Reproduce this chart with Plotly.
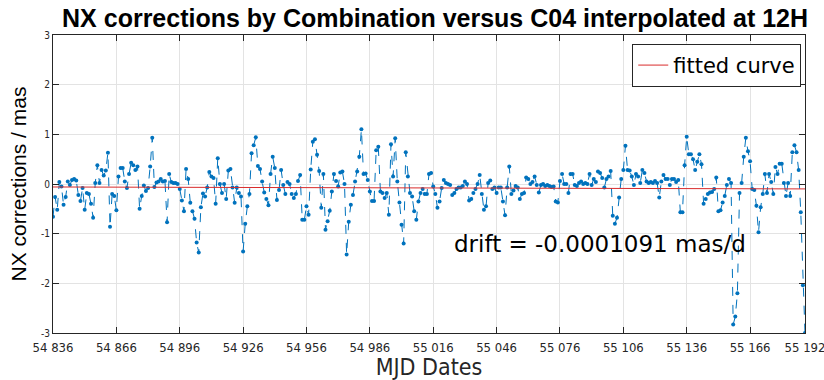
import plotly.graph_objects as go

# ---------------- data ----------------
mjd_start = 54836
nx_values = [
    -0.66, -0.26, -0.52, 0.04, -0.05, -0.42, -0.26, 0.05, -0.02, 0.08,
    0.10, 0.07, -0.22, -0.34, -0.08, -0.52, -0.18, -0.20, -0.40, -0.68,
    0.02, 0.38, 0.02, 0.28, 0.17, 0.27, 0.63, -0.86, -0.20, -0.24,
    -0.53,
    0.15, 0.32, 0.32, 0.05, -0.08, 0.20, 0.43, 0.38, 0.28, 0.35,
    -0.50, -0.24, -0.03, -0.14, -0.08, 0.35, 0.93, -0.06, 0.03, 0.05,
    0.10, 0.05, 0.06, -0.77, 0.20, 0.04, 0.02, 0.02, 0.00, -0.10,
    -0.33, -0.55, 0.30, 0.10, -0.38, -0.55, -0.70, -1.18, -1.38, -0.47,
    -0.19, -0.25, -0.07, 0.24, 0.15, 0.12, -0.40, 0.52, 0.00, -0.18,
    0.00, -0.30, 0.27, 0.30, -0.07, -0.38, -0.07, -0.18, -0.25, -1.36,
    -0.80, -0.45, -0.20, 0.62, 0.78, 0.94, 0.36, 0.30, 0.05, -0.17,
    -0.30, -0.43, 0.20, 0.55, 0.32, -0.32, -0.12, 0.28, -0.02, -0.20,
    0.04, 0.00, -0.20, -0.28, -0.20, 0.06, 0.18, -0.72, -0.72, -0.45,
    -0.62, 0.29, 0.85, 0.90, 0.59, 0.26, -0.48, 0.20, -0.92, -0.75,
    -0.54, -0.15, 0.20, 0.06, -0.05, 0.23, 0.25, 0.00, -1.42, -0.76,
    -0.42, -0.22, 0.05, 0.25, 0.55, 1.10, 0.20, 0.21, 0.08, -0.15,
    -0.34, -0.34, 0.68, 0.75, -0.15, -0.18, -0.28, -0.18, -0.62, 0.80,
    0.15, 0.92, 0.05, -0.37, -0.82, -1.20, 0.64, 0.15, -0.18, -0.25,
    -0.55, -0.72, -0.35,
    -0.18, -0.10, -0.20, -0.20, 0.20, 0.22, -0.05, -0.20, -0.48, -0.35,
    -0.08, 0.08, 0.02, 0.00, -0.02, -0.22, -0.18, -0.10, -0.07, -0.07,
    -0.04, 0.05, 0.00, -0.33, -0.30, -0.18, -0.10, 0.00, 0.18, -0.20,
    -0.52, -0.45, 0.02, 0.07, -0.10, -0.07, -0.18, -0.07, -0.07, -0.35,
    -0.63, -0.07, 0.35, -0.20, -0.13, -0.04, -0.07, -0.30, -0.20, -0.18,
    0.13, 0.10, 0.00, 0.04, 0.15, -0.02, -0.17, -0.02, 0.00, -0.04,
    -0.02, -0.04, -0.06, -0.05, -0.35, -0.37, 0.06, 0.20, 0.00, 0.00,
    -0.18, 0.20, 0.20, -0.02, -0.04, 0.02, 0.05, 0.00, 0.02, 0.00,
    0.20, -0.02, 0.10, 0.04, 0.25,
    0.22, 0.12, -0.07, 0.10, 0.15, 0.26, -0.64, -0.80, -0.68, -0.27,
    0.10, 0.28, 0.77, 0.28, 0.27, 0.15, -0.02, 0.20, 0.15, 0.02,
    0.28, 0.22, 0.05, 0.02, 0.04, 0.02, 0.06, 0.02, -0.27, 0.05,
    0.18, 0.10, 0.10, -0.02, 0.10, 0.10, 0.04, 0.08, -0.57, -0.57,
    0.38, 0.95, 0.60, 0.60, 0.50, 0.28, 0.45, 0.60, 0.40, -0.40,
    -0.30, -0.20, -0.17, -0.16, -0.10, 0.13, -0.55, -0.53, -0.37, -0.24,
    -0.02, 0.10, 0.02, -2.83, -2.67, -2.20, -0.18, 0.02, 0.55, 0.93,
    0.66, 0.46, -0.10, -0.12, -0.44, -0.97, -0.47, -0.20, 0.20, -0.18,
    0.20, 0.04, -0.20, 0.34, 0.20, 0.41, 0.41, 0.02, -0.24, 0.02,
    -0.24, 0.64, 0.78, 0.64, 0.28, -0.57, -2.04, -3.00,
]
mjd = [mjd_start + i for i in range(len(nx_values))]

fit_intercept = -0.06
drift = -0.0001091  # mas/d

x_tick_vals = [54836, 54866, 54896, 54926, 54956, 54986, 55016,
               55046, 55076, 55106, 55136, 55166, 55192]
x_tick_text = ["54 836", "54 866", "54 896", "54 926", "54 956", "54 986",
               "55 016", "55 046", "55 076", "55 106", "55 136", "55 166",
               "55 192"]
y_tick_vals = [-3, -2, -1, 0, 1, 2, 3]
y_tick_text = ["-3", "-2", "-1", "0", "1", "2", "3"]

fit_x = [mjd[0], mjd[-1]]
fit_y = [fit_intercept + drift * (v - mjd[0]) for v in fit_x]

# ---------------- figure ----------------
TXT = "#262626"
fig = go.Figure()
fig.add_trace(go.Scatter(
    x=mjd, y=nx_values, mode="lines+markers",
    line=dict(color="#0072BD", width=1, dash="dash"),
    marker=dict(color="#0072BD", size=4),
    showlegend=False, name="NX",
))
fig.add_trace(go.Scatter(
    x=fit_x, y=fit_y, mode="lines",
    line=dict(color="#D92B2B", width=1),
    name="fitted curve", showlegend=True,
))

fig.update_layout(
    width=824, height=380,
    margin=dict(l=53, r=19, t=35, b=47, autoexpand=False),
    paper_bgcolor="white", plot_bgcolor="white",
    title=dict(text="<b>NX corrections by Combination versus C04 interpolated at 12H</b>",
               x=0.528, xanchor="center", y=0.975, yanchor="top",
               font=dict(family="Liberation Sans, Arial, sans-serif", size=25, color="black")),
    legend=dict(x=0.995, xanchor="right", y=0.97, yanchor="top",
                bgcolor="white", bordercolor=TXT, borderwidth=1,
                font=dict(family="DejaVu Sans, sans-serif", size=21, color="black"),
                itemwidth=30),
    annotations=[dict(
        text="drift = -0.0001091 mas/d", x=55025, y=-1.2, xref="x", yref="y",
        xanchor="left", yanchor="middle", showarrow=False,
        font=dict(family="DejaVu Sans, sans-serif", size=23, color="black"),
    )],
)
fig.update_xaxes(
    range=[54836, 55192], tickvals=x_tick_vals, ticktext=x_tick_text,
    ticks="inside", ticklen=6, tickcolor=TXT, mirror="ticks",
    showline=True, linecolor=TXT, linewidth=1, automargin=False,
    showgrid=True, gridcolor="#E3E3E3", gridwidth=1, zeroline=False,
    ticklabeloverflow="allow", ticklabelstandoff=2,
    tickfont=dict(family="Liberation Sans Narrow, DejaVu Sans Condensed, sans-serif", size=13, color=TXT),
    title=dict(text="MJD Dates", standoff=6,
               font=dict(family="Liberation Sans Narrow, DejaVu Sans Condensed, sans-serif", size=23, color=TXT)),
)
fig.update_yaxes(
    range=[-3, 3], tickvals=y_tick_vals, ticktext=y_tick_text,
    ticks="inside", ticklen=6, tickcolor=TXT, mirror="ticks",
    showline=True, linecolor=TXT, linewidth=1, automargin=False,
    showgrid=True, gridcolor="#E3E3E3", gridwidth=1, zeroline=False,
    tickfont=dict(family="Liberation Sans Narrow, DejaVu Sans Condensed, sans-serif", size=10, color=TXT),
    title=dict(text="NX corrections / mas", standoff=8,
               font=dict(family="Liberation Sans, Arial, sans-serif", size=21, color="black")),
)

fig.write_html("out.html", config={"displayModeBar": False, "responsive": False})
